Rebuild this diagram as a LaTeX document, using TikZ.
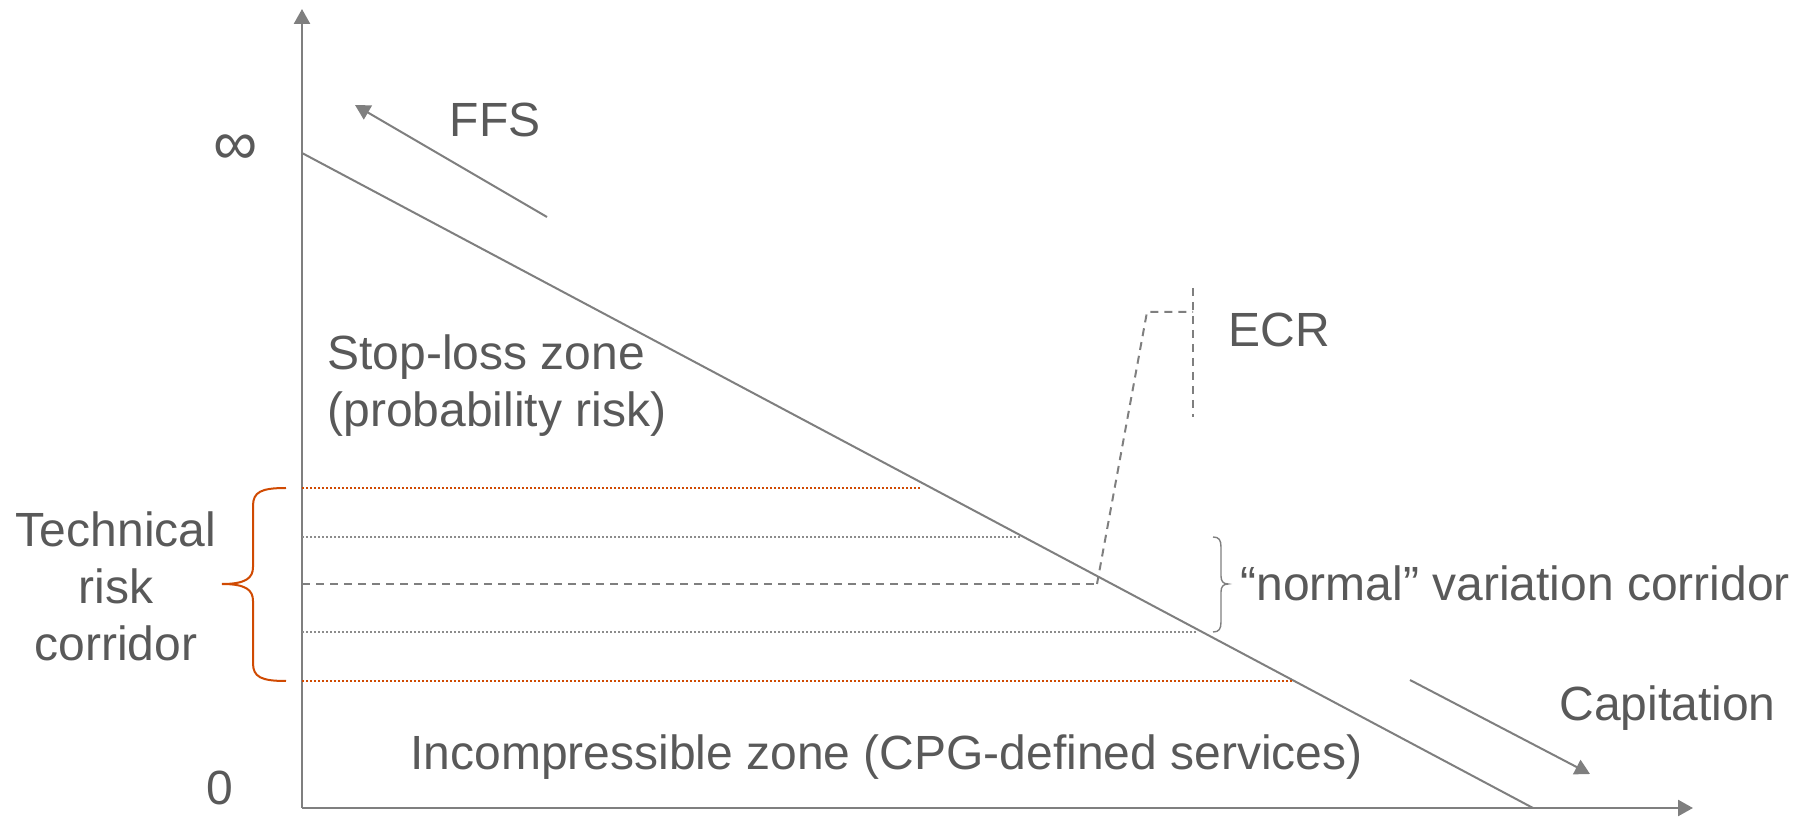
\documentclass[tikz,border=0pt]{standalone}
\usepackage{fontspec}
\setmainfont{Liberation Sans}
\usetikzlibrary{arrows.meta}
\definecolor{txt}{HTML}{595959}
\definecolor{ln}{HTML}{7F7F7F}
\definecolor{rd}{HTML}{D04A02}
\begin{document}
\begin{tikzpicture}[x=0.5pt,y=-0.5pt,
  lbl/.style={text=txt,font=\fontsize{24}{28.5}\selectfont,inner sep=0pt},
  axisline/.style={draw=ln,line width=1.25pt,-{Triangle[length=7.5pt,width=8pt]}},
  trend/.style={draw=ln,line width=1pt,-{Triangle[length=7.5pt,width=8pt]}},
  diag/.style={draw=ln,line width=1pt},
  dashline/.style={draw=ln,line width=1pt,dash pattern=on 4pt off 3pt},
  greydot/.style={draw=ln!90,line width=0.8pt,dash pattern=on 1pt off 1pt},
  reddot/.style={draw=rd,line width=1pt,dash pattern=on 1pt off 1pt},
  redbrace/.style={draw=rd,line width=1pt},
  greybrace/.style={draw=ln,line width=0.7pt}]
\useasboundingbox (0,0) rectangle (1801,817);
% coordinates
\coordinate (O) at (302,808);
\coordinate (ytop) at (302,9);
\coordinate (xend) at (1693,808);
\coordinate (dtop) at (302,153);
\coordinate (dbot) at (1533,808);
% axes
\draw[axisline] (O) -- (ytop);
\draw[axisline] (O) -- (xend);
\draw[diag] (dtop) -- (dbot);
% corridor lines
\coordinate (r1a) at (302,488); \coordinate (r1b) at (922,488);
\coordinate (g1a) at (302,537); \coordinate (g1b) at (1022,537);
\coordinate (da) at (302,584);  \coordinate (db) at (1097,584);
\coordinate (g2a) at (302,632); \coordinate (g2b) at (1198,632);
\coordinate (r2a) at (302,681); \coordinate (r2b) at (1293,681);
\draw[reddot] (r1a) -- (r1b);
\draw[greydot] (g1a) -- (g1b);
\draw[dashline] (da) -- (db);
\draw[greydot] (g2a) -- (g2b);
\draw[reddot] (r2a) -- (r2b);
% ECR
\coordinate (e1) at (1147,312);
\coordinate (e2) at (1193,312);
\coordinate (v1) at (1193,288);
\coordinate (v2) at (1193,417);
\draw[dashline] (db) -- (e1) -- (e2);
\draw[dashline] (v1) -- (v2);
\node[lbl,anchor=base] (ecr) at (1279,347) {ECR};
% FFS
\coordinate (ffs1) at (547,217);
\coordinate (ffs2) at (355,105);
\draw[trend] (ffs1) -- (ffs2);
\node[lbl,anchor=base] (ffs) at (495,137) {FFS};
% Capitation
\coordinate (cap1) at (1410,680);
\coordinate (cap2) at (1590,774);
\draw[trend] (cap1) -- (cap2);
\node[lbl,anchor=base west] (capt) at (1559,721) {Capitation};
% axis labels
\node[lbl,font=\fontsize{31}{34}\selectfont,anchor=center] (inf) at (236,150) {∞};
\node[lbl,anchor=base] (zero) at (220,805) {0};
% zone labels
\node[lbl,anchor=base west] (stop1) at (327,370) {Stop-loss zone};
\node[lbl,anchor=base west] (stop2) at (327,427) {(probability risk)};
\node[lbl,anchor=base west] (inc) at (410,770) {Incompressible zone (CPG-defined services)};
% technical risk corridor
\draw[redbrace] (286,488) .. controls (261,488) and (253,492) .. (253,506) -- (253,567)
  .. controls (253,578) and (246,584) .. (222,584)
  .. controls (246,584) and (253,590) .. (253,601) -- (253,663)
  .. controls (253,677) and (261,681) .. (286,681);
\node[lbl,align=center,anchor=center] (trc) at (116,586) {Technical\\risk\\corridor};
% normal variation corridor
\draw[greybrace] (1213,537) .. controls (1219,537) and (1221,540) .. (1221,547) -- (1221,576)
  .. controls (1221,581) and (1223,584) .. (1228,584)
  .. controls (1223,584) and (1221,587) .. (1221,592) -- (1221,622)
  .. controls (1221,629) and (1219,632) .. (1213,632);
\node[lbl,anchor=base west] (nvc) at (1240,601) {“normal” variation corridor};
\end{tikzpicture}
\end{document}
